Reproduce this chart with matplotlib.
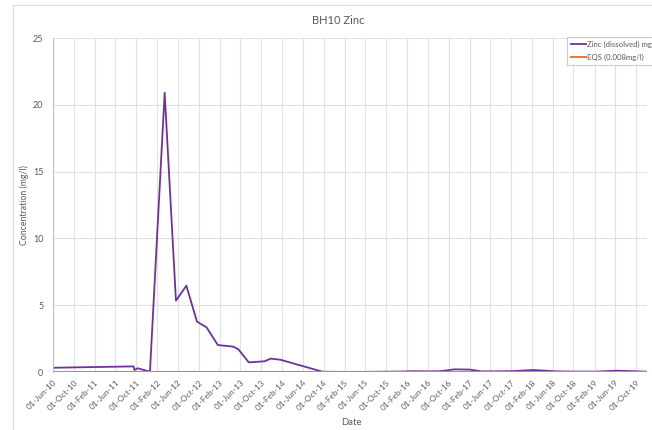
import matplotlib
matplotlib.use("Agg")
import matplotlib.pyplot as plt
import matplotlib.dates as mdates
from matplotlib.patches import Rectangle
import pandas as pd

dates = ["2010-06-10", "2011-09-15", "2011-09-20", "2011-10-10", "2011-12-20",
         "2012-03-15", "2012-05-20", "2012-07-20", "2012-09-20", "2012-11-15",
         "2013-01-20", "2013-04-20", "2013-05-20", "2013-07-20", "2013-10-20",
         "2013-11-25", "2014-01-20", "2014-09-25", "2014-12-10", "2015-03-10",
         "2015-06-10", "2015-09-10", "2015-12-10", "2016-03-10", "2016-06-10",
         "2016-08-15", "2016-11-05", "2017-02-01", "2017-04-10", "2017-07-15",
         "2017-10-15", "2018-02-10", "2018-06-20", "2018-10-15", "2019-02-10",
         "2019-06-10", "2019-09-20", "2019-12-05"]
zinc = [0.32, 0.42, 0.15, 0.28, 0.02,
        20.9, 5.34, 6.46, 3.77, 3.34,
        2.02, 1.9, 1.7, 0.72, 0.8,
        1.0, 0.92, 0.02, 0.01, 0.01,
        0.01, 0.02, 0.03, 0.06, 0.05,
        0.06, 0.2, 0.18, 0.05, 0.05,
        0.07, 0.15, 0.05, 0.03, 0.03,
        0.1, 0.06, 0.02]
eqs_value = 0.008
x_start = "2010-06-01"
x_end = "2019-12-05"

FONT = ["Lato", "DejaVu Sans"]
plt.rcParams["font.family"] = FONT
GRAY = "#595959"
GRID = "#e0e0e0"

d = pd.to_datetime(dates)
fig = plt.figure(figsize=(6.52, 4.30), dpi=100)
W, H = 652, 430
ax = fig.add_axes([53 / W, 1 - 372 / H, (647 - 53) / W, (372 - 38) / H])

# outer chart border
fig.patches.append(Rectangle((13 / W, -0.1), 1.2, 1 - 5 / H + 0.1,
                             transform=fig.transFigure, fill=False,
                             edgecolor="#d9d9d9", linewidth=0.8))

ax.plot(d, zinc, color="#7030A0", linewidth=1.3, label="Zinc (dissolved) mg/l")
ax.plot(pd.to_datetime([x_start, x_end]), [eqs_value, eqs_value],
        color="#ED7D31", linewidth=1.5, label="EQS (0.008mg/l)")

ax.set_xlim(pd.Timestamp(x_start), pd.Timestamp(x_end))
ax.set_ylim(0, 25)
ax.set_yticks([0, 5, 10, 15, 20, 25])
ax.xaxis.set_major_locator(mdates.MonthLocator(bymonth=[2, 6, 10], bymonthday=1))
ax.xaxis.set_major_formatter(mdates.DateFormatter("%d-%b-%y"))
for lab in ax.get_xticklabels():
    lab.set_rotation(45)
    lab.set_ha("right")
    lab.set_rotation_mode("anchor")
ax.tick_params(axis="x", labelsize=6, colors=GRAY, length=0, pad=5)
ax.tick_params(axis="y", labelsize=6.5, colors=GRAY, length=0, pad=7)
ax.grid(True, color=GRID, linewidth=0.8)
ax.set_axisbelow(True)
for s in ["top", "right", "bottom"]:
    ax.spines[s].set_visible(False)
ax.spines["left"].set_color("#bfbfbf")
ax.spines["left"].set_linewidth(0.8)

ax.set_ylabel("Concentration (mg/l)", fontsize=6.3, color=GRAY, labelpad=3)
ax.set_xlabel("Date", fontsize=6.8, color=GRAY)
ax.xaxis.set_label_coords((351 - 53) / (647 - 53), -(418 - 372) / (372 - 38))

fig.text(338 / W, 1 - 20 / H, "BH10 Zinc", ha="center", va="center",
         fontsize=8, color=GRAY)

leg = fig.legend(loc="upper left", bbox_to_anchor=(563 / W, 1 - 33 / H),
                 fontsize=5.6, frameon=True, fancybox=False, handlelength=1.9,
                 handletextpad=0.2, borderpad=0.5, labelspacing=0.8)
leg.get_frame().set_edgecolor("#bfbfbf")
leg.get_frame().set_linewidth(0.8)
for t in leg.get_texts():
    t.set_color(GRAY)

fig.savefig("out.png", dpi=100)
